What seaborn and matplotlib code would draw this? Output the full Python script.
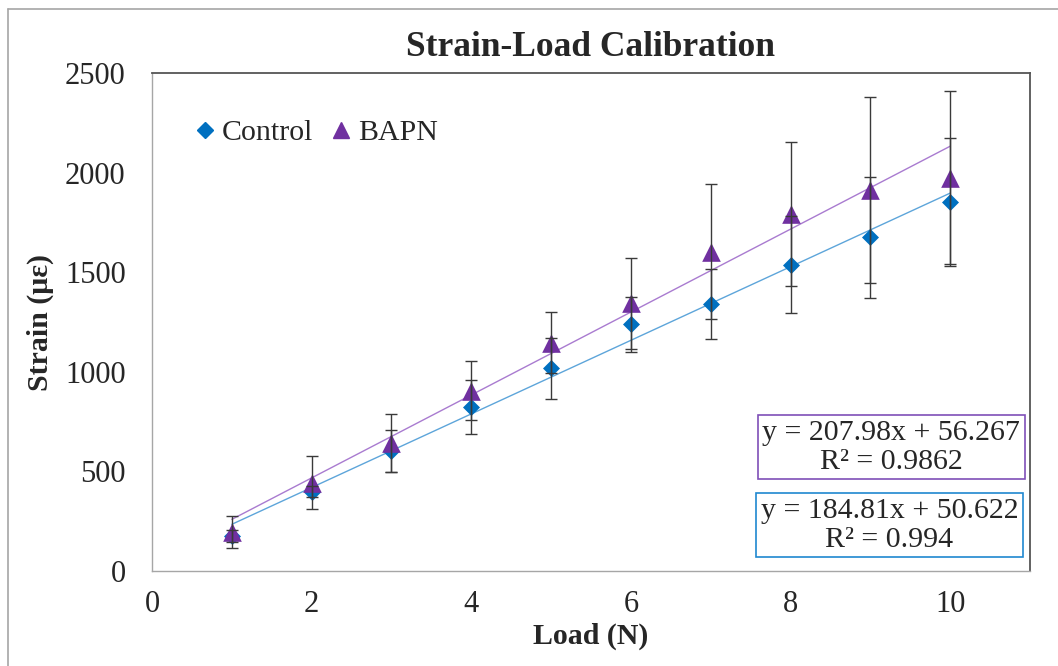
import numpy as np
import pandas as pd
import seaborn as sns
import matplotlib.pyplot as plt
from matplotlib.lines import Line2D

load = [1, 2, 3, 4, 5, 6, 7, 8, 9, 10]
control = [176, 398, 602, 822, 1017, 1238, 1340, 1538, 1675, 1852]
control_err = [30, 27, 104, 135, 155, 139, 176, 244, 305, 322]
bapn = [197, 443, 641, 905, 1146, 1344, 1603, 1792, 1913, 1975]
bapn_err = [81, 133, 145, 148, 153, 229, 340, 360, 467, 433]

df_c = pd.DataFrame({'load': load, 'strain': control})
df_b = pd.DataFrame({'load': load, 'strain': bapn})

sns.set_style('white')
plt.rcParams['font.family'] = ['Liberation Serif', 'DejaVu Serif']

blue = '#0070C0'
purple = '#7030A0'

fig = plt.figure(figsize=(10.58, 6.66), dpi=100)
ax = fig.add_axes([0.1437, 0.1426, 0.8298, 0.7478])

# trend lines
sns.regplot(data=df_c, x='load', y='strain', ax=ax, scatter=False, ci=None,
            truncate=True, line_kws={'color': '#5DA5DA', 'lw': 1.0, 'zorder': 2})
sns.regplot(data=df_b, x='load', y='strain', ax=ax, scatter=False, ci=None,
            truncate=True, line_kws={'color': '#A97BD0', 'lw': 1.0, 'zorder': 2})

sns.scatterplot(data=df_c, x='load', y='strain', marker='D', color=blue,
                s=75, linewidth=0, ax=ax, zorder=3)
sns.scatterplot(data=df_b, x='load', y='strain', marker='^', color=purple,
                s=180, linewidth=0, ax=ax, zorder=3)

ax.errorbar(load, control, yerr=control_err, fmt='none', ecolor='#3A3A3A',
            elinewidth=1.0, capsize=4, capthick=1.0, zorder=4)
ax.errorbar(load, bapn, yerr=bapn_err, fmt='none', ecolor='#3A3A3A',
            elinewidth=1.0, capsize=4, capthick=1.0, zorder=4)

ax.set_xlim(0, 11)
ax.set_ylim(0, 2500)
ax.set_xticks([0, 2, 4, 6, 8, 10])
ax.set_yticks([0, 500, 1000, 1500, 2000, 2500])
ax.tick_params(axis='both', labelsize=22, direction='out', length=7,
               color='#A6A6A6', width=1)
ax.tick_params(axis='y', pad=12)
ax.tick_params(axis='x', pad=7)

for side in ['left', 'bottom']:
    ax.spines[side].set_color('#A6A6A6')
    ax.spines[side].set_linewidth(1.0)
for side in ['top', 'right']:
    ax.spines[side].set_color('#555555')
    ax.spines[side].set_linewidth(1.3)

ax.set_xlabel('Load (N)', fontsize=21.5, fontweight='bold', labelpad=2)
ax.set_ylabel('Strain (με)', fontsize=21.5, fontweight='bold', labelpad=8)
ax.set_title('Strain-Load Calibration', fontsize=25.5, fontweight='bold', pad=12)

handles = [
    Line2D([], [], marker='D', color=blue, ls='none', markersize=8),
    Line2D([], [], marker='^', color=purple, ls='none', markersize=12),
]
ax.legend(handles, ['Control', 'BAPN'], ncol=2, frameon=False, fontsize=21.5,
          loc='center left', bbox_to_anchor=(0.013, 0.88),
          handletextpad=0.05, columnspacing=0.45, handlelength=1.0)

ax.text(0.842, 0.249, 'y = 207.98x + 56.267\nR² = 0.9862', transform=ax.transAxes,
        ha='center', va='center', fontsize=21.5, multialignment='center',
        linespacing=1.15,
        bbox=dict(boxstyle='square,pad=0.15', fc='white', ec='#7F4FB8', lw=1.2))
ax.text(0.840, 0.092, 'y = 184.81x + 50.622\nR² = 0.994', transform=ax.transAxes,
        ha='center', va='center', fontsize=21.5, multialignment='center',
        linespacing=1.15,
        bbox=dict(boxstyle='square,pad=0.15', fc='white', ec='#1F88D0', lw=1.2))

# outer chart frame (only top and left edges visible)
fig.add_artist(Line2D([0.0076, 0.0076], [0.0, 0.9865], color='#A6A6A6', lw=1.2,
                      transform=fig.transFigure))
fig.add_artist(Line2D([0.0076, 1.0], [0.9865, 0.9865], color='#A6A6A6', lw=1.2,
                      transform=fig.transFigure))

fig.savefig('out.png', dpi=100)
